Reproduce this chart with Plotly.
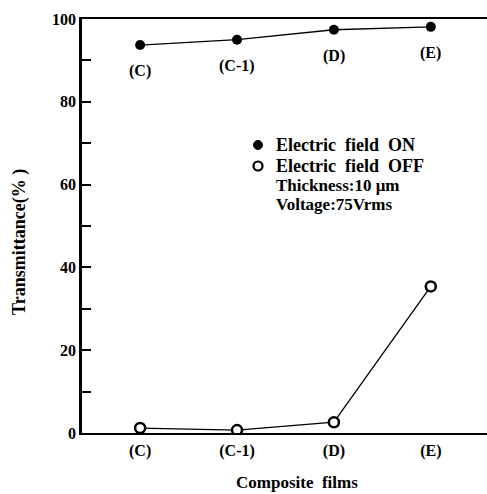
import plotly.graph_objects as go

categories = ["(C)", "(C-1)", "(D)", "(E)"]
field_on = [93.7, 95.0, 97.4, 98.1]
field_off = [1.2, 0.7, 2.6, 35.4]
y_ticks = [0, 20, 40, 60, 80, 100]

FONT = "Liberation Serif"
x_idx = list(range(len(categories)))

L, R, T, B, W, H = 82, 0, 19, 61, 487, 494
PW, PH = W - L - R, H - T - B


def px(x):
    return (x - L) / PW


def py(y):
    return (H - B - y) / PH


fig = go.Figure()
fig.add_trace(go.Scatter(
    x=x_idx, y=field_on, mode="lines+markers", showlegend=False,
    line=dict(color="black", width=1.3),
    marker=dict(symbol="circle", size=10, color="black"),
))
fig.add_trace(go.Scatter(
    x=x_idx, y=field_off, mode="lines+markers", showlegend=False,
    line=dict(color="black", width=1.3),
    marker=dict(symbol="circle", size=10, color="white", line=dict(color="black", width=2.5)),
))

# labels under the ON points
for i, (c, v) in enumerate(zip(categories, field_on)):
    fig.add_annotation(x=i, y=v, text="<b>%s</b>" % c, showarrow=False,
                       yshift=-26, font=dict(family=FONT, size=16, color="black"))

# legend (symbols + text)
legend_items = [(145, "Electric  field  ON", "black"), (166, "Electric  field  OFF", "white")]
for yy, txt, fill in legend_items:
    fig.add_shape(type="circle", xref="paper", yref="paper", xsizemode="pixel", ysizemode="pixel",
                  xanchor=px(258), yanchor=py(yy), x0=-4.5, x1=4.5, y0=-4.5, y1=4.5,
                  fillcolor=fill, line=dict(color="black", width=2.2 if fill == "white" else 1))
    fig.add_annotation(xref="paper", yref="paper", x=px(275), y=py(yy),
                       xanchor="left", yanchor="middle", showarrow=False, borderpad=0,
                       text="<b>%s</b>" % txt, font=dict(family=FONT, size=18, color="black"))

for yy, txt in [(185, "Thickness:10 μm"), (204, "Voltage:75Vrms")]:
    fig.add_annotation(xref="paper", yref="paper", x=px(275), y=py(yy),
                       xanchor="left", yanchor="middle", align="left", showarrow=False, borderpad=0,
                       text="<b>%s</b>" % txt,
                       font=dict(family=FONT, size=17, color="black"))

# axis titles
fig.add_annotation(xref="paper", yref="paper", x=px(297), y=py(482),
                   xanchor="center", yanchor="middle", showarrow=False,
                   text="<b>Composite  films</b>", font=dict(family=FONT, size=17, color="black"))
fig.add_annotation(xref="paper", yref="paper", x=px(20), y=py(242),
                   xanchor="center", yanchor="middle", showarrow=False, textangle=-90,
                   text="<b>Transmittance(% )</b>", font=dict(family=FONT, size=18, color="black"))

fig.update_layout(
    width=W, height=H,
    margin=dict(l=L, r=R, t=T, b=B),
    paper_bgcolor="white", plot_bgcolor="white",
    font=dict(family=FONT, size=16, color="black"),
    showlegend=False,
    xaxis=dict(
        tickmode="array", tickvals=x_idx, ticktext=["<b>%s</b>" % c for c in categories],
        range=[-0.6, 3.58], showline=True, linecolor="black", linewidth=2, mirror=True,
        showgrid=False, zeroline=False, ticks="", ticklabelstandoff=2, automargin=False,
    ),
    yaxis=dict(
        range=[0, 100], tickmode="array", tickvals=y_ticks,
        ticktext=["<b>%d</b>" % t for t in y_ticks],
        showline=True, linecolor="black", linewidth=2.5, mirror=False,
        showgrid=False, zeroline=False, automargin=False,
        ticks="inside", ticklen=9, tickwidth=2, tickcolor="black",
        minor=dict(ticks="inside", ticklen=9, tickwidth=2, tickcolor="black", dtick=10, tick0=0, showgrid=False),
    ),
)

fig.write_html("out.html", config={"displayModeBar": False},
               post_script="document.body.style.margin='0';")
